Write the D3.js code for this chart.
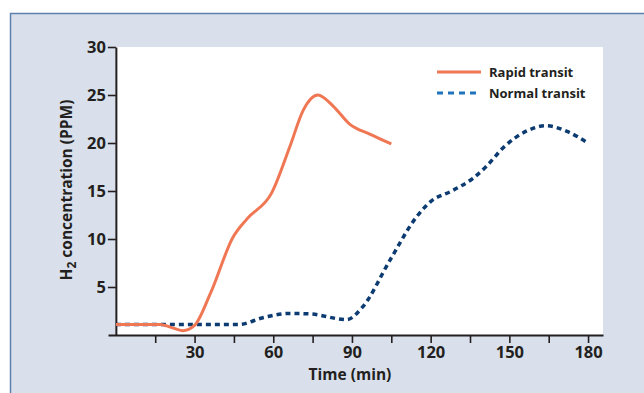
<!DOCTYPE html>
<html>
<head>
<meta charset="utf-8">
<script src="https://cdn.jsdelivr.net/npm/d3@7"></script>
<style>
  html, body { margin: 0; padding: 0; background: #fff; }
  svg { display: block; font-family: "Open Sans", "Noto Sans", sans-serif; }
  .axis text { font-family: "Open Sans", sans-serif; font-size: 16.5px; font-weight: 700; fill: #231f20; }
  .axis path, .axis line { stroke: #231f20; }
  .title { font-size: 15.5px; font-weight: 700; fill: #231f20; }
  .legend text { font-size: 13px; font-weight: 700; fill: #231f20; }
</style>
</head>
<body>
<svg id="chart" width="644" height="393"></svg>
<script>
// Rapid transit (min, PPM)
const rapidTime = [0, 17, 21, 25.5, 30, 36, 44.7, 50, 59.4, 66.3, 71.4, 77, 83, 89, 97, 105];
const rapidH2   = [1.1, 1.1, 0.8, 0.45, 1.0, 4.3, 10.2, 12.1, 14.8, 19.6, 23.4, 25.0, 23.8, 22.0, 20.9, 19.9];

// Normal transit (min, PPM)
const normalTime = [0, 47, 56, 66, 74, 88, 94, 104.5, 114.6, 120, 128, 136, 141, 148, 157, 164, 172, 180];
const normalH2   = [1.1, 1.1, 1.8, 2.25, 2.2, 1.6, 2.9, 7.8, 12.3, 13.9, 15.0, 16.3, 17.5, 19.6, 21.3, 21.8, 21.2, 20.0];

const xTicks = [15, 30, 45, 60, 75, 90, 105, 120, 135, 150, 165, 180];
const xLabels = [30, 60, 90, 120, 150, 180];
const yTicks = [5, 10, 15, 20, 25, 30];
const seriesNames = ["Rapid transit", "Normal transit"];

const svg = d3.select("#chart");

// panel background with border on top and left
svg.append("rect").attr("x", 10).attr("y", 13).attr("width", 640).attr("height", 390)
  .attr("fill", "#d9e0eb");
svg.append("path").attr("d", "M10.5,400V13.5H650")
  .attr("fill", "none").attr("stroke", "#5d81aa").attr("stroke-width", 1.5);

const x = d3.scaleLinear().domain([-3, 185.7]).range([108, 603]);
const y = d3.scaleLinear().domain([0, 30]).range([335, 47]);

// white plotting area
svg.append("rect")
  .attr("x", x(0)).attr("y", y(30))
  .attr("width", x.range()[1] - x(0)).attr("height", y(0) - y(30))
  .attr("fill", "#fff");

// axes
const xAxis = svg.append("g").attr("class", "axis")
  .attr("transform", `translate(0,${y(0)})`)
  .call(d3.axisBottom(x).tickValues(xTicks).tickSize(8).tickSizeOuter(0)
    .tickFormat(d => xLabels.includes(d) ? d : ""))
  .attr("font-family", null).attr("font-size", null);
xAxis.select(".domain").attr("stroke-width", 2);
xAxis.selectAll(".tick line").attr("stroke-width", 1.6);
xAxis.selectAll(".tick text").attr("y", 10).attr("dy", "0.8em");

const yAxis = svg.append("g").attr("class", "axis")
  .attr("transform", `translate(${x(0)},0)`)
  .call(d3.axisLeft(y).tickValues(yTicks).tickSize(8).tickSizeOuter(0))
  .attr("font-family", null).attr("font-size", null);
yAxis.select(".domain").attr("stroke-width", 2);
yAxis.selectAll(".tick line").attr("stroke-width", 1.6);
yAxis.selectAll(".tick text").attr("x", -10);

// axis titles
svg.append("text").attr("class", "title")
  .attr("x", 350).attr("y", 380).attr("text-anchor", "middle")
  .text("Time (min)");

const yTitle = svg.append("text").attr("class", "title")
  .attr("transform", "translate(72,190) rotate(-90)")
  .attr("text-anchor", "middle");
yTitle.append("tspan").text("H");
yTitle.append("tspan").attr("font-size", "12px").attr("dy", 4).text("2");
yTitle.append("tspan").attr("dy", -4).text(" concentration (PPM)");

// lines
const line = d3.line().x(d => x(d[0])).y(d => y(d[1])).curve(d3.curveMonotoneX);

svg.append("path")
  .datum(normalTime.map((t, i) => [t, normalH2[i]]))
  .attr("d", line)
  .attr("fill", "none").attr("stroke", "#0c3b72").attr("stroke-width", 3.5)
  .attr("stroke-dasharray", "5,4");

svg.append("path")
  .datum(rapidTime.map((t, i) => [t, rapidH2[i]]))
  .attr("d", line)
  .attr("fill", "none").attr("stroke", "#f07753").attr("stroke-width", 3);

// legend
const legend = svg.append("g").attr("class", "legend");
const legendStyle = [
  { color: "#f07753", dash: null },
  { color: "#1f74bb", dash: "6,5" }
];
seriesNames.forEach((name, i) => {
  const ly = 72 + i * 21;
  legend.append("line").attr("x1", 437).attr("x2", 481).attr("y1", ly).attr("y2", ly)
    .attr("stroke", legendStyle[i].color).attr("stroke-width", 3)
    .attr("stroke-dasharray", legendStyle[i].dash);
  legend.append("text").attr("x", 489).attr("y", ly).attr("dy", "0.35em").text(name);
});
</script>
</body>
</html>
